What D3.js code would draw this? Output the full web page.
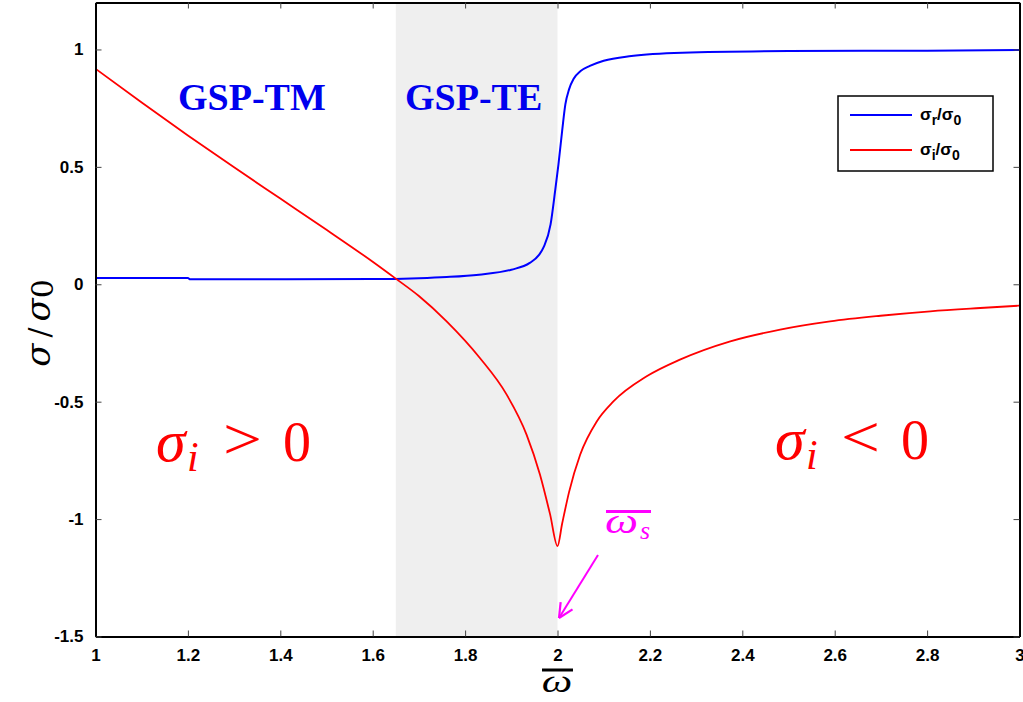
<!DOCTYPE html>
<html><head><meta charset="utf-8">
<script src="https://cdn.jsdelivr.net/npm/d3@7/dist/d3.min.js"></script>
<style>
body{margin:0;background:#fff;}
svg{display:block;}
</style></head>
<body>
<svg id="chart" width="1023" height="702"></svg>
<script>
// ---- data ----
const omegaR = [1.0,1.2,1.205,1.4,1.6,1.7,1.76,1.83,1.9,1.94,1.96,1.97,1.985,1.995,2.002,2.01,2.017,2.025,2.035,2.05,2.07,2.1,2.16,2.27,2.5,2.8,3.0];
const sigmaR = [0.027,0.027,0.021,0.021,0.022,0.026,0.031,0.041,0.062,0.091,0.125,0.158,0.255,0.40,0.51,0.652,0.766,0.83,0.875,0.908,0.93,0.952,0.972,0.986,0.993,0.995,0.998];
const omegaI = [1.0,1.1,1.2,1.3,1.4,1.5,1.6,1.65,1.7,1.76,1.832,1.89,1.933,1.962,1.984,2.0,2.01,2.025,2.049,2.085,2.121,2.193,2.265,2.374,2.482,2.59,2.699,2.807,2.915,3.0];
const sigmaI = [0.918,0.774,0.634,0.498,0.365,0.232,0.096,0.024,-0.05,-0.158,-0.314,-0.47,-0.64,-0.81,-0.98,-1.115,-1.02,-0.885,-0.726,-0.584,-0.499,-0.392,-0.321,-0.243,-0.193,-0.158,-0.134,-0.115,-0.101,-0.091];
const xTicks = [1,1.2,1.4,1.6,1.8,2,2.2,2.4,2.6,2.8,3];
const yTicks = [-1.5,-1,-0.5,0,0.5,1];
const band = [1.65, 2.0];
const xDomain = [1,3];
const yDomain = [-1.5,1.2];

// ---- layout ----
const svg = d3.select("#chart");
const L = 95.5, R = 1019.5, T = 2.5, B = 636.5;
const x = d3.scaleLinear().domain(xDomain).range([L,R]);
const y = d3.scaleLinear().domain(yDomain).range([B,T]);
const fmt = d => String(d);

// shaded band
svg.append("rect").attr("x",x(band[0])).attr("y",T)
  .attr("width",x(band[1])-x(band[0])).attr("height",B-T).attr("fill","#efefef");

// curves
const line = d3.line().x(d=>x(d[0])).y(d=>y(d[1])).curve(d3.curveMonotoneX);
svg.append("path").datum(omegaR.map((w,i)=>[w,sigmaR[i]])).attr("d",line)
  .attr("fill","none").attr("stroke","#0000ff").attr("stroke-width",2);
svg.append("path").datum(omegaI.map((w,i)=>[w,sigmaI[i]])).attr("d",line)
  .attr("fill","none").attr("stroke","#ff0000").attr("stroke-width",1.8);

// axes
const tickStyle = g => {
  g.select(".domain").attr("stroke","#000").attr("stroke-width",2);
  g.selectAll(".tick line").attr("stroke","#444").attr("stroke-width",1);
  g.selectAll(".tick text").attr("fill","#000").style("font-family","'Liberation Sans',Arial,sans-serif")
    .style("font-weight","bold").style("font-size","17px");
};
svg.append("g").attr("transform",`translate(0,${B})`)
  .call(d3.axisBottom(x).tickValues(xTicks).tickFormat(fmt).tickSizeInner(-6).tickSizeOuter(0).tickPadding(12))
  .call(tickStyle);
svg.append("g").attr("transform",`translate(0,${T})`)
  .call(d3.axisTop(x).tickValues(xTicks).tickFormat("").tickSizeInner(-6).tickSizeOuter(0))
  .call(tickStyle);
svg.append("g").attr("transform",`translate(${L},0)`)
  .call(d3.axisLeft(y).tickValues(yTicks).tickFormat(fmt).tickSizeInner(-6).tickSizeOuter(0).tickPadding(12))
  .call(tickStyle);
svg.append("g").attr("transform",`translate(${R},0)`)
  .call(d3.axisRight(y).tickValues(yTicks).tickFormat("").tickSizeInner(-6).tickSizeOuter(0))
  .call(tickStyle);

// region labels
const serif = "'Liberation Serif','Times New Roman',serif";
svg.append("text").attr("x",178).attr("y",110).text("GSP-TM")
  .style("font-family",serif).style("font-weight","bold").style("font-size","38px").attr("fill","#0000ee");
svg.append("text").attr("x",405).attr("y",110).text("GSP-TE")
  .style("font-family",serif).style("font-weight","bold").style("font-size","38px").attr("fill","#0000ee");

function sigmaLabel(xs, base, op){
  const g = svg.append("g").attr("fill","#ff0000").style("font-family",serif);
  g.append("text").attr("x",xs[0]).attr("y",base).style("font-style","italic").style("font-size","60px").text("σ");
  g.append("text").attr("x",xs[1]).attr("y",base+10).style("font-style","italic").style("font-size","42px").text("i");
  g.append("text").attr("x",xs[2]).attr("y",base-2).style("font-size","60px")
    .attr("transform",`translate(${xs[2]},0) scale(1.15,1) translate(${-xs[2]},0)`).text(op);
  g.append("text").attr("x",xs[3]).attr("y",base).style("font-size","56px").text("0");
}
sigmaLabel([156,187,223,283], 461, ">");
sigmaLabel([775,806,841,901], 459, "<");

// legend
const lg = svg.append("g");
lg.append("rect").attr("x",838).attr("y",96).attr("width",155).attr("height",75)
  .attr("fill","#fff").attr("stroke","#000").attr("stroke-width",1.5);
const legendItems = [["r","#0000ff",115],["i","#ff0000",150]];
legendItems.forEach(([s,c,yy])=>{
  lg.append("line").attr("x1",850).attr("x2",912).attr("y1",yy).attr("y2",yy).attr("stroke",c).attr("stroke-width",2);
  const t = lg.append("text").attr("x",920).attr("y",yy+5).attr("fill","#000")
    .style("font-family","'Liberation Sans',Arial,sans-serif").style("font-weight","bold").style("font-size","17px");
  t.append("tspan").text("σ");
  t.append("tspan").attr("dy",5).style("font-size","14px").text(s);
  t.append("tspan").attr("dy",-5).text("/σ");
  t.append("tspan").attr("dy",5).style("font-size","14px").text("0");
});

// y-axis label
const yl = svg.append("text").attr("transform","translate(50,323) rotate(-90)").attr("text-anchor","middle")
  .attr("fill","#000").style("font-family","'DejaVu Serif',serif").style("font-size","34px");
yl.append("tspan").style("font-style","italic").text("σ");
yl.append("tspan").style("font-size","30px").text("\u2009/\u2009");
yl.append("tspan").style("font-style","italic").text("σ");
yl.append("tspan").attr("dy",3).style("font-size","30px").text("0");

// x-axis label (omega bar)
svg.append("text").attr("x",557).attr("y",692).attr("text-anchor","middle")
  .attr("transform","translate(557,0) scale(1.35,1) translate(-557,0)")
  .style("font-family",serif).style("font-style","italic").style("font-size","32px").attr("fill","#000").text("ω");
svg.append("line").attr("x1",542).attr("x2",573).attr("y1",670).attr("y2",670).attr("stroke","#000").attr("stroke-width",3);

// omega_s annotation
svg.append("text").attr("x",605).attr("y",533).attr("fill","#ff00ff")
  .attr("transform","translate(605,0) scale(1.3,1) translate(-605,0)")
  .style("font-family",serif).style("font-style","italic").style("font-size","36px").text("ω");
svg.append("text").attr("x",640).attr("y",539).attr("fill","#ff00ff")
  .style("font-family",serif).style("font-style","italic").style("font-size","26px").text("s");
svg.append("line").attr("x1",606).attr("x2",651).attr("y1",511.5).attr("y2",511.5).attr("stroke","#ff00ff").attr("stroke-width",3);

// arrow
svg.append("line").attr("x1",598).attr("y1",555).attr("x2",559).attr("y2",618)
  .attr("stroke","#ff00ff").attr("stroke-width",2);
const tip=[559,618], ang=Math.atan2(618-555,559-598);
[0.45,-0.45].forEach(a=>{
  svg.append("line").attr("x1",tip[0]).attr("y1",tip[1])
    .attr("x2",tip[0]-16*Math.cos(ang+a)).attr("y2",tip[1]-16*Math.sin(ang+a))
    .attr("stroke","#ff00ff").attr("stroke-width",2.2);
});
</script>
</body></html>
